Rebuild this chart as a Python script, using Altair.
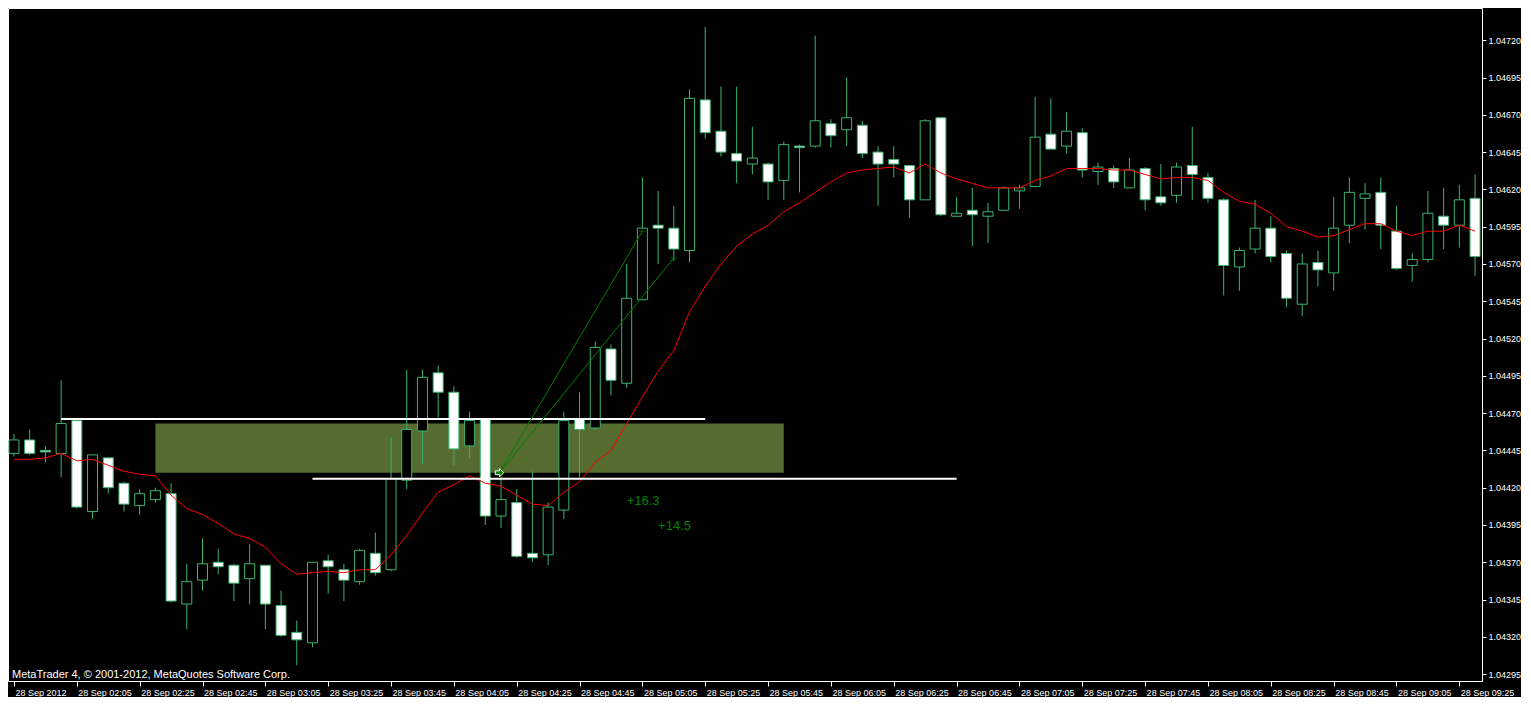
import altair as alt
import pandas as pd

# ---- candle data (5-minute bars, 28 Sep 2012, 01:45 .. 09:30) ----
bar_index = list(range(94))
opens = [1.04443, 1.04452, 1.04445, 1.04443, 1.04465, 1.04404, 1.04440, 1.04423, 1.04408, 1.04412,
         1.04416, 1.04342, 1.04358, 1.04370, 1.04368, 1.04359, 1.04368, 1.04341, 1.04323, 1.04316,
         1.04371, 1.04365, 1.04357, 1.04376, 1.04365, 1.04425, 1.04458, 1.04497, 1.04484, 1.04448,
         1.04466, 1.04401, 1.04410, 1.04376, 1.04375, 1.04405, 1.04466, 1.04460, 1.04513, 1.04490,
         1.04546, 1.04596, 1.04594, 1.04579, 1.04680, 1.04659, 1.04644, 1.04637, 1.04637, 1.04626,
         1.04649, 1.04649, 1.04664, 1.04660, 1.04663, 1.04645, 1.04640, 1.04636, 1.04613, 1.04668,
         1.04602, 1.04606, 1.04602, 1.04606, 1.04619, 1.04622, 1.04657, 1.04649, 1.04658, 1.04632,
         1.04634, 1.04621, 1.04634, 1.04615, 1.04616, 1.04636, 1.04628, 1.04613, 1.04568, 1.04580,
         1.04594, 1.04577, 1.04543, 1.04571, 1.04564, 1.04596, 1.04614, 1.04618, 1.04592, 1.04569,
         1.04573, 1.04602, 1.04596, 1.04614]
highs = [1.04456, 1.04459, 1.04448, 1.04492, 1.04466, 1.04442, 1.04440, 1.04424, 1.04419, 1.04420,
         1.04423, 1.04369, 1.04386, 1.04379, 1.04369, 1.04382, 1.04368, 1.04351, 1.04331, 1.04370,
         1.04375, 1.04369, 1.04379, 1.04390, 1.04454, 1.04499, 1.04499, 1.04502, 1.04488, 1.04471,
         1.04466, 1.04427, 1.04419, 1.04431, 1.04410, 1.04471, 1.04484, 1.04518, 1.04516, 1.04570,
         1.04628, 1.04619, 1.04609, 1.04687, 1.04729, 1.04689, 1.04689, 1.04662, 1.04638, 1.04652,
         1.04650, 1.04723, 1.04667, 1.04695, 1.04666, 1.04649, 1.04649, 1.04636, 1.04667, 1.04668,
         1.04615, 1.04621, 1.04611, 1.04622, 1.04623, 1.04682, 1.04681, 1.04672, 1.04661, 1.04638,
         1.04636, 1.04641, 1.04635, 1.04637, 1.04638, 1.04662, 1.04631, 1.04614, 1.04581, 1.04613,
         1.04602, 1.04579, 1.04577, 1.04579, 1.04615, 1.04628, 1.04624, 1.04628, 1.04609, 1.04577,
         1.04619, 1.04621, 1.04623, 1.04630]
lows = [1.04441, 1.04442, 1.04437, 1.04427, 1.04406, 1.04399, 1.04416, 1.04404, 1.04402, 1.04410,
        1.04343, 1.04325, 1.04351, 1.04362, 1.04344, 1.04342, 1.04325, 1.04320, 1.04301, 1.04313,
        1.04349, 1.04344, 1.04355, 1.04361, 1.04364, 1.04419, 1.04436, 1.04467, 1.04435, 1.04440,
        1.04395, 1.04393, 1.04373, 1.04370, 1.04368, 1.04399, 1.04427, 1.04459, 1.04482, 1.04487,
        1.04546, 1.04570, 1.04572, 1.04571, 1.04654, 1.04642, 1.04624, 1.04630, 1.04613, 1.04613,
        1.04618, 1.04648, 1.04648, 1.04649, 1.04641, 1.04609, 1.04628, 1.04601, 1.04613, 1.04602,
        1.04602, 1.04582, 1.04584, 1.04606, 1.04607, 1.04622, 1.04647, 1.04644, 1.04628, 1.04623,
        1.04621, 1.04621, 1.04606, 1.04609, 1.04611, 1.04613, 1.04611, 1.04549, 1.04552, 1.04577,
        1.04571, 1.04541, 1.04535, 1.04555, 1.04552, 1.04584, 1.04593, 1.04580, 1.04566, 1.04558,
        1.04571, 1.04580, 1.04581, 1.04562]
closes = [1.04452, 1.04443, 1.04444, 1.04463, 1.04407, 1.04442, 1.04420, 1.04409, 1.04416, 1.04418,
          1.04344, 1.04357, 1.04369, 1.04367, 1.04356, 1.04369, 1.04342, 1.04321, 1.04318, 1.04370,
          1.04367, 1.04358, 1.04378, 1.04363, 1.04426, 1.04459, 1.04494, 1.04484, 1.04446, 1.04465,
          1.04401, 1.04412, 1.04374, 1.04373, 1.04407, 1.04465, 1.04459, 1.04514, 1.04492, 1.04547,
          1.04594, 1.04594, 1.04580, 1.04681, 1.04658, 1.04645, 1.04639, 1.04641, 1.04625, 1.04650,
          1.04648, 1.04666, 1.04656, 1.04668, 1.04644, 1.04637, 1.04637, 1.04613, 1.04666, 1.04603,
          1.04604, 1.04603, 1.04605, 1.04621, 1.04621, 1.04655, 1.04647, 1.04659, 1.04633, 1.04635,
          1.04625, 1.04633, 1.04613, 1.04611, 1.04635, 1.04630, 1.04614, 1.04569, 1.04579, 1.04594,
          1.04575, 1.04547, 1.04570, 1.04566, 1.04594, 1.04618, 1.04617, 1.04596, 1.04567, 1.04573,
          1.04604, 1.04596, 1.04613, 1.04575]
ma_values = [1.04439, 1.04439, 1.04440, 1.04443, 1.04438, 1.04439, 1.04435, 1.04431, 1.04429, 1.04428,
             1.04415, 1.04406, 1.04402, 1.04396, 1.04389, 1.04386, 1.04380, 1.04369, 1.04362, 1.04363,
             1.04364, 1.04363, 1.04365, 1.04365, 1.04375, 1.04388, 1.04403, 1.04417, 1.04422, 1.04428,
             1.04423, 1.04421, 1.04415, 1.04409, 1.04408, 1.04417, 1.04424, 1.04437, 1.04445, 1.04463,
             1.04481, 1.04498, 1.04512, 1.04538, 1.04555, 1.04570, 1.04582, 1.04590, 1.04596, 1.04605,
             1.04611, 1.04618, 1.04625, 1.04631, 1.04633, 1.04634, 1.04635, 1.04631, 1.04637, 1.04631,
             1.04627, 1.04624, 1.04621, 1.04621, 1.04621, 1.04626, 1.04629, 1.04634, 1.04634, 1.04634,
             1.04633, 1.04633, 1.04630, 1.04627, 1.04628, 1.04628, 1.04626, 1.04618, 1.04612, 1.04610,
             1.04604, 1.04595, 1.04592, 1.04588, 1.04589, 1.04593, 1.04597, 1.04597, 1.04592, 1.04589,
             1.04592, 1.04592, 1.04596, 1.04592]

time_ticks = [0, 4, 8, 12, 16, 20, 24, 28, 32, 36, 40, 44, 48, 52, 56, 60, 64, 68, 72, 76, 80, 84, 88, 92]
time_labels = ["28 Sep 2012", "28 Sep 02:05", "28 Sep 02:25", "28 Sep 02:45", "28 Sep 03:05",
               "28 Sep 03:25", "28 Sep 03:45", "28 Sep 04:05", "28 Sep 04:25", "28 Sep 04:45",
               "28 Sep 05:05", "28 Sep 05:25", "28 Sep 05:45", "28 Sep 06:05", "28 Sep 06:25",
               "28 Sep 06:45", "28 Sep 07:05", "28 Sep 07:25", "28 Sep 07:45", "28 Sep 08:05",
               "28 Sep 08:25", "28 Sep 08:45", "28 Sep 09:05", "28 Sep 09:25"]
price_ticks = [1.04295, 1.04320, 1.04345, 1.04370, 1.04395, 1.04420, 1.04445, 1.04470, 1.04495,
               1.04520, 1.04545, 1.04570, 1.04595, 1.04620, 1.04645, 1.04670, 1.04695, 1.04720]

# ---- chart objects ----
zone_k = [9, 49]
zone_price = [1.04463, 1.04430]
hline_k1 = [3, 19]
hline_k2 = [44, 60]
hline_price = [1.04466, 1.04426]
fan_id = ["a", "a", "b", "b"]
fan_k = [30.9, 40, 30.9, 42]
fan_price = [1.04430, 1.04592, 1.04430, 1.04574]
label_k = [39, 41]
label_price = [1.04411, 1.04394]
label_text = ["+16.3", "+14.5"]
copyright_text = "MetaTrader 4, \u00a9 2001-2012, MetaQuotes Software Corp."

GREEN = "#3CB371"
W, H = 1474, 673

candles = pd.DataFrame({"k": bar_index, "open": opens, "high": highs, "low": lows, "close": closes})
candles["top"] = candles[["open", "close"]].max(axis=1)
candles["bot"] = candles[["open", "close"]].min(axis=1)
ma_df = pd.DataFrame({"k": bar_index, "ma": ma_values})
zone_df = pd.DataFrame({"k1": [zone_k[0]], "k2": [zone_k[1]], "p1": [zone_price[0]], "p2": [zone_price[1]]})
hline_df = pd.DataFrame({"k1": hline_k1, "k2": hline_k2, "price": hline_price})
fan_df = pd.DataFrame({"id": fan_id, "k": fan_k, "price": fan_price})
fan_end = fan_df[fan_df["k"] > 31]
fan_start = fan_df.iloc[[0]]
lab_df = pd.DataFrame({"k": label_k, "price": label_price, "t": label_text})

x_scale = alt.Scale(domain=[-0.0625, 93.125], nice=False, zero=False)
y_scale = alt.Scale(domain=[1.042904, 1.047416], nice=False, zero=False)

label_expr = "[" + ",".join("'%s'" % s for s in time_labels) + "][round(datum.value/4)]"
x_axis = alt.Axis(values=time_ticks, labelExpr=label_expr, labelAlign="left", labelBaseline="top",
                  labelPadding=2, labelOffset=1, tickSize=5, grid=False, title=None,
                  labelOverlap=False, labelFlush=False, labelFont="Liberation Sans",
                  labelFontSize=9, labelColor="white", tickColor="white", domainColor="white")
y_axis = alt.Axis(orient="right", values=price_ticks, format=".5f", tickSize=4, labelPadding=2,
                  grid=False, title=None, labelOverlap=False, labelFlush=False,
                  labelFont="Liberation Sans", labelFontSize=9, labelColor="white",
                  tickColor="white", domainColor="white")


def X(field):
    return alt.X(field, type="quantitative", scale=x_scale, axis=x_axis)


def Y(field):
    return alt.Y(field, type="quantitative", scale=y_scale, axis=y_axis)


zone = alt.Chart(zone_df).mark_rect(color="#556B2F").encode(
    x=X("k1"), x2="k2", y=Y("p1"), y2="p2")

wicks = alt.Chart(candles).mark_rule(color=GREEN, strokeWidth=1, clip=True).encode(
    x=X("k"), y=Y("low"), y2="high")

bodies = alt.Chart(candles).mark_bar(size=10, stroke=GREEN, strokeWidth=1, clip=True).encode(
    x=X("k"), y=Y("bot"), y2="top",
    fill=alt.condition("datum.close < datum.open", alt.value("white"), alt.value("black")))

ma_line = alt.Chart(ma_df).mark_line(color="#FF0000", strokeWidth=1, clip=True).encode(
    x=X("k"), y=Y("ma"))

hlines = alt.Chart(hline_df).mark_rule(color="white", strokeWidth=2).encode(
    x=X("k1"), x2="k2", y=Y("price"))

fans = alt.Chart(fan_df).mark_line(color="#008000", strokeWidth=1).encode(
    x=X("k"), y=Y("price"), detail="id:N")

fan_ticks = alt.Chart(fan_end).mark_point(shape="stroke", size=49, color="#008000",
                                          strokeWidth=1).encode(x=X("k"), y=Y("price"))

marker = alt.Chart(fan_start).mark_point(
    shape="M-1,-0.45L0,-0.45L0,-1L1,0L0,1L0,0.45L-1,0.45Z", size=70, filled=True,
    fill="#008000", stroke="white", strokeWidth=1, opacity=1).encode(x=X("k"), y=Y("price"))

labels = alt.Chart(lab_df).mark_text(align="left", baseline="middle", font="Liberation Sans",
                                     fontSize=13, color="#008000").encode(
    x=X("k"), y=Y("price"), text="t:N")

copyright = alt.Chart(pd.DataFrame({"t": [copyright_text]})).mark_text(
    align="left", baseline="middle", font="Liberation Sans", fontSize=11, color="white").encode(
    x=alt.value(4), y=alt.value(H - 6), text="t:N")

chart = alt.layer(zone, wicks, bodies, ma_line, hlines, fans, fan_ticks, marker, labels,
                  copyright).properties(
    width=W, height=H, padding=0, background="black"
).configure_view(stroke="white", strokeWidth=1, fill="black")

chart.save("out.html", embed_options={"renderer": "svg", "actions": False})
